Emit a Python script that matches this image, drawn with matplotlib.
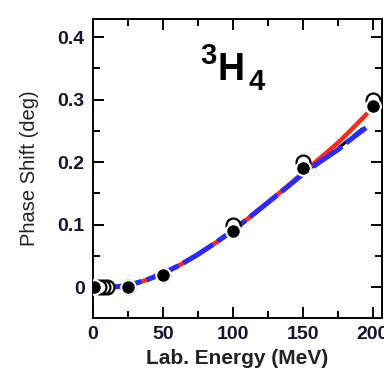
import numpy as np
import matplotlib.pyplot as plt
from matplotlib.ticker import MultipleLocator

plt.rcParams['font.family'] = ['Liberation Sans', 'DejaVu Sans']

# pontos da analise (circulos cheios) e de outra analise (circulos abertos)
e_cheio = [1, 25, 50, 100, 150, 200]
d_cheio = [0.0, 0.0, 0.02, 0.09, 0.19, 0.29]
e_aberto = [4, 7, 10, 25, 50, 100, 150, 200]
d_aberto = [0.0, 0.0, 0.0, 0.0, 0.02, 0.10, 0.20, 0.30]

# curvas teoricas
e_curva = [10, 17.5, 25, 37.5, 50, 62.5, 75, 87.5, 100, 112.5, 125, 137.5, 150, 162.5, 175, 185, 195]
d_vermelha = [0.0, 0.001, 0.003, 0.011, 0.022, 0.036, 0.0525, 0.071, 0.091, 0.113, 0.1355, 0.159, 0.183, 0.207, 0.231, 0.253, 0.276]
d_azul = [0.0, 0.001, 0.003, 0.011, 0.022, 0.036, 0.0525, 0.071, 0.091, 0.113, 0.1355, 0.158, 0.181, 0.201, 0.220, 0.238, 0.255]
d_preta = [0.0, 0.001, 0.003, 0.011, 0.022, 0.036, 0.0525, 0.071, 0.091, 0.113, 0.1355, 0.158, 0.182, 0.202, 0.222, 0.240, 0.258]

fig = plt.figure(figsize=(3.84, 3.78), dpi=100)
ax = fig.add_axes([0.242, 0.159, 0.753, 0.791])

ax.plot(e_curva, d_preta, color='black', lw=2.2, ls=(0, (4, 2)), zorder=2)
ax.plot(e_curva, d_vermelha, color='#ff2a1a', lw=3.2, zorder=3)
ax.plot(e_curva, d_azul, color='#2a2aff', lw=3.6, ls=(0, (7, 1.1)), zorder=4)

# circulos abertos desenhados da direita para a esquerda
for e, d in reversed(list(zip(e_aberto, d_aberto))):
    ax.plot(e, d, 'o', ms=10, mfc='white', mec='black', mew=1.6, zorder=5)
ax.plot(e_cheio, d_cheio, 'o', ms=10.5, mfc='black', mec='white', mew=1.5, ls='none', zorder=6)

ax.set_xlim(0, 206.5)
ax.set_ylim(-0.049, 0.429)
ax.xaxis.set_major_locator(MultipleLocator(50))
ax.xaxis.set_minor_locator(MultipleLocator(25))
ax.yaxis.set_major_locator(MultipleLocator(0.1))
ax.yaxis.set_minor_locator(MultipleLocator(0.05))
ax.set_xticks([0, 50, 100, 150, 200])
ax.set_xticklabels(['0', '50', '100', '150', '200'])
ax.set_yticks([0, 0.1, 0.2, 0.3, 0.4])
ax.set_yticklabels(['0', '0.1', '0.2', '0.3', '0.4'])

ax.tick_params(which='both', direction='in', top=True, right=True, width=1.4,
               labelsize=14, labelcolor='#141430', pad=6)
ax.tick_params(which='major', length=8)
ax.tick_params(which='minor', length=5)
for t in ax.get_xticklabels() + ax.get_yticklabels():
    t.set_fontweight('bold')
for s in ax.spines.values():
    s.set_linewidth(1.4)

ax.set_xlabel('Lab. Energy (MeV)', fontsize=15, fontweight='bold', color='#222222', labelpad=4)
ax.set_ylabel('Phase Shift (deg)', fontsize=14.5, color='#222222', labelpad=13)

# rotulo da onda parcial
fig.text(0.521, 0.83, '3', fontsize=21, fontweight='bold', ha='left', va='baseline')
fig.text(0.566, 0.788, 'H', fontsize=27, fontweight='bold', ha='left', va='baseline')
fig.text(0.647, 0.762, '4', fontsize=21, fontweight='bold', ha='left', va='baseline')

fig.savefig('out.png', dpi=100)
